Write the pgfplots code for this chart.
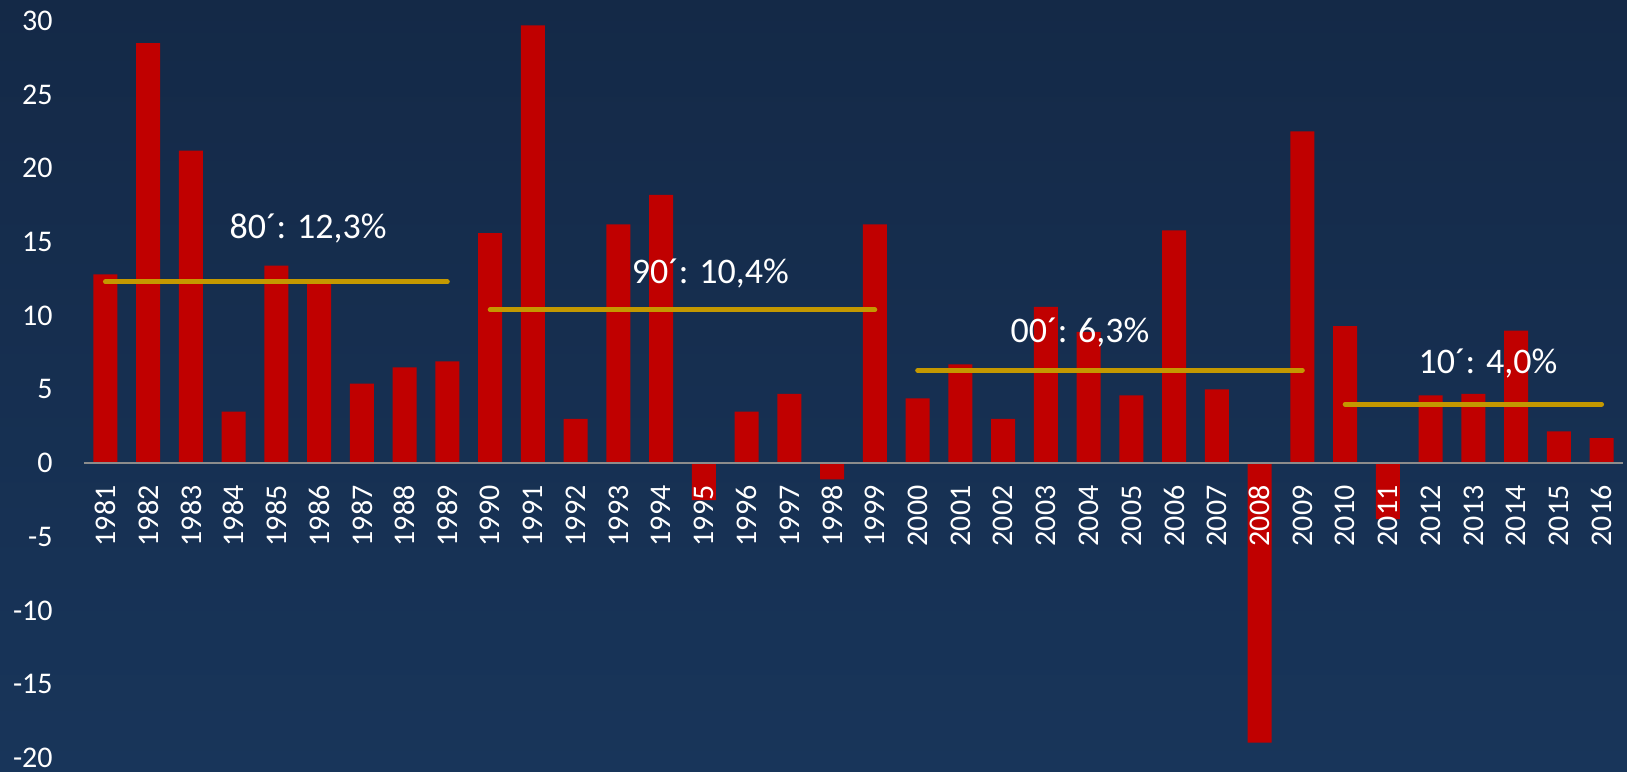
\documentclass[border=0pt]{standalone}
\usepackage{fontspec}
\setmainfont{Carlito}
\usepackage{pgfplots}
\pgfplotsset{compat=1.18}

\definecolor{bgtop}{RGB}{20,41,71}
\definecolor{bgbot}{RGB}{24,53,90}
\definecolor{barred}{RGB}{192,0,0}
\definecolor{avggold}{RGB}{196,152,0}
\definecolor{zeroline}{RGB}{140,140,140}

\begin{document}
\begin{tikzpicture}
% background (1 px = 0.5pt)
\shade[top color=bgtop, bottom color=bgbot] (-42pt,0) rectangle (771.5pt,385.5pt);
\begin{axis}[
    at={(0,0)}, anchor=south west,
    width=769.5pt, height=385.5pt, scale only axis,
    xmin=-0.5, xmax=35.5,
    ymin=-20.88, ymax=31.42,
    axis on top,
    axis x line*=middle, axis y line*=left,
    hide obscured x ticks=false, hide obscured y ticks=false,
    x axis line style={draw=zeroline, line width=1pt},
    y axis line style={draw=none},
    major tick length=0pt,
    xtick={0,...,35},
    xticklabels={1981,1982,1983,1984,1985,1986,1987,1988,1989,1990,
                 1991,1992,1993,1994,1995,1996,1997,1998,1999,2000,
                 2001,2002,2003,2004,2005,2006,2007,2008,2009,2010,
                 2011,2012,2013,2014,2015,2016},
    ytick={-20,-15,...,30},
    xticklabel style={rotate=90, anchor=east, inner sep=0pt, text=white,
                      font=\fontsize{15pt}{18pt}\selectfont},
    xticklabel shift=11pt,
    yticklabel style={anchor=east, inner sep=0pt, text=white,
                      font=\fontsize{15pt}{18pt}\selectfont,
                      /pgf/number format/assume math mode=true},
    yticklabel shift=15.5pt,
    clip=false,
]
\addplot[ybar, bar width=0.56, fill=barred, draw=none] coordinates {
    (0,12.8) (1,28.5) (2,21.2) (3,3.5) (4,13.4) (5,12.2) (6,5.4) (7,6.5) (8,6.9)
    (9,15.6) (10,29.7) (11,3.0) (12,16.2) (13,18.2) (14,-2.5) (15,3.5) (16,4.7)
    (17,-1.1) (18,16.2) (19,4.4) (20,6.7) (21,3.0) (22,10.6) (23,8.9) (24,4.6)
    (25,15.8) (26,5.0) (27,-18.95) (28,22.5) (29,9.3) (30,-3.8) (31,4.6)
    (32,4.7) (33,9.0) (34,2.15) (35,1.7)
};

% decade averages
\addplot[avggold, line width=2.4pt, line cap=round] coordinates {(0,12.3) (8,12.3)};
\addplot[avggold, line width=2.4pt, line cap=round] coordinates {(9,10.4) (18,10.4)};
\addplot[avggold, line width=2.4pt, line cap=round] coordinates {(19,6.3) (28,6.3)};
\addplot[avggold, line width=2.4pt, line cap=round] coordinates {(29,4.0) (35,4.0)};

\node[text=white, font=\fontsize{18pt}{21pt}\selectfont] at (axis cs:4.74,15.9) {80´: 12,3\%};
\node[text=white, font=\fontsize{18pt}{21pt}\selectfont] at (axis cs:14.15,12.87) {90´: 10,4\%};
\node[text=white, font=\fontsize{18pt}{21pt}\selectfont] at (axis cs:22.8,8.87) {00´: 6,3\%};
\node[text=white, font=\fontsize{18pt}{21pt}\selectfont] at (axis cs:32.34,6.76) {10´: 4,0\%};
\end{axis}
\pgfresetboundingbox
\useasboundingbox (-42pt,0) rectangle (771.5pt,385.5pt);
\end{tikzpicture}
\end{document}
